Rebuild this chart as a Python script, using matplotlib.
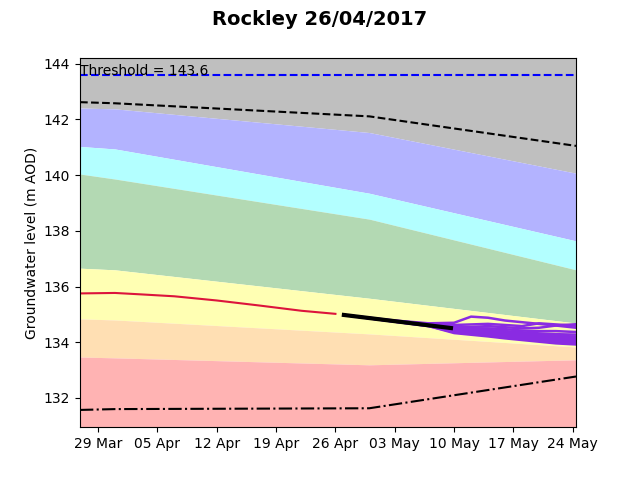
# plot level air tanah Rockley
import pandas as pd
import matplotlib
matplotlib.use('Agg')
from matplotlib import pyplot as plt
import matplotlib.dates as mdates

# tanggal batas band (akhir bulan)
band_dates = pd.to_datetime(['2017-03-26 21:00', '2017-03-31 00:00', '2017-04-30 00:00', '2017-05-24 09:00'])
upper_line = [142.62, 142.58, 142.11, 141.05]
lavender_top = [142.41, 142.38, 141.53, 140.07]
cyan_top = [141.03, 140.94, 139.35, 137.64]
green_top = [140.04, 139.86, 138.42, 136.60]
yellow_top = [136.66, 136.60, 135.58, 134.69]
peach_top = [134.84, 134.80, 134.30, 133.83]
pink_top = [133.47, 133.44, 133.19, 133.37]
lower_line = [131.57, 131.60, 131.63, 132.77]

threshold = 143.6

# data observasi
obs_dates = pd.to_datetime(['2017-03-26', '2017-03-31', '2017-04-03', '2017-04-07', '2017-04-12',
                            '2017-04-17', '2017-04-22', '2017-04-26'])
obs_level = [135.75, 135.77, 135.72, 135.65, 135.50, 135.32, 135.13, 135.02]

# prediksi rata-rata
fc_dates = pd.to_datetime(['2017-04-27 00:00', '2017-05-09 15:00'])
fc_level = [134.98, 134.51]

# ensemble prediksi
ens_dates = pd.to_datetime(['2017-04-27', '2017-05-03', '2017-05-07', '2017-05-10', '2017-05-12',
                            '2017-05-14', '2017-05-16', '2017-05-18', '2017-05-20', '2017-05-22',
                            '2017-05-25'])
ens_1 = [134.98, 134.78, 134.68, 134.70, 134.92, 134.88, 134.78, 134.72, 134.66, 134.60, 134.66]
ens_2 = [134.98, 134.77, 134.66, 134.62, 134.64, 134.66, 134.62, 134.58, 134.68, 134.64, 134.58]
ens_3 = [134.98, 134.76, 134.64, 134.56, 134.55, 134.58, 134.54, 134.50, 134.52, 134.60, 134.50]
ens_4 = [134.98, 134.76, 134.63, 134.54, 134.50, 134.50, 134.47, 134.42, 134.40, 134.40, 134.36]
ens_5 = [134.98, 134.76, 134.62, 134.52, 134.47, 134.44, 134.40, 134.36, 134.32, 134.29, 134.27]
ens_6 = [134.98, 134.76, 134.62, 134.50, 134.45, 134.40, 134.36, 134.32, 134.27, 134.23, 134.20]
ens_7 = [134.98, 134.75, 134.61, 134.48, 134.43, 134.37, 134.32, 134.27, 134.22, 134.18, 134.14]
ens_8 = [134.98, 134.75, 134.60, 134.46, 134.40, 134.34, 134.28, 134.23, 134.17, 134.12, 134.08]
ens_9 = [134.98, 134.75, 134.60, 134.43, 134.37, 134.31, 134.25, 134.19, 134.13, 134.07, 134.03]
ens_10 = [134.98, 134.74, 134.59, 134.40, 134.34, 134.28, 134.21, 134.15, 134.09, 134.03, 133.98]
ens_11 = [134.98, 134.74, 134.58, 134.36, 134.30, 134.24, 134.17, 134.11, 134.05, 133.99, 133.94]
ens_12 = [134.98, 134.74, 134.58, 134.33, 134.27, 134.21, 134.14, 134.08, 134.02, 133.96, 133.91]
ensembles = [ens_1, ens_2, ens_3, ens_4, ens_5, ens_6, ens_7, ens_8, ens_9, ens_10, ens_11, ens_12]

fig, ax = plt.subplots(figsize=(6.4, 4.8), dpi=100)

# band warna
ax.fill_between(band_dates, lavender_top, 150, color='#bfbfbf', lw=0)
ax.fill_between(band_dates, cyan_top, lavender_top, color='#b3b3ff', lw=0)
ax.fill_between(band_dates, green_top, cyan_top, color='#b3ffff', lw=0)
ax.fill_between(band_dates, yellow_top, green_top, color='#b3d9b3', lw=0)
ax.fill_between(band_dates, peach_top, yellow_top, color='#ffffb3', lw=0)
ax.fill_between(band_dates, pink_top, peach_top, color='#ffdfb3', lw=0)
ax.fill_between(band_dates, 125, pink_top, color='#ffb3b3', lw=0)

ax.plot(band_dates, upper_line, 'k--', lw=1.5)
ax.plot(band_dates, lower_line, 'k-.', lw=1.5)
ax.axhline(threshold, color='b', ls='--', lw=1.5)

for e in ensembles:
    ax.plot(ens_dates, e, color='#8a2be2', lw=1.8)
ax.plot(obs_dates, obs_level, color='crimson', lw=1.5)
ax.plot(fc_dates, fc_level, color='k', lw=3)

xmin = pd.Timestamp('2017-03-26 21:00')
xmax = pd.Timestamp('2017-05-24 09:00')
ax.set_xlim(xmin, xmax)
ax.set_ylim(130.95, 144.22)
ax.text(xmin, threshold, 'Threshold = ' + str(threshold), fontsize=10)

ax.xaxis.set_major_locator(mdates.WeekdayLocator(byweekday=mdates.WE))
ax.xaxis.set_major_formatter(mdates.DateFormatter('%d %b'))
ax.set_ylabel('Groundwater level (m AOD)')
fig.suptitle('Rockley 26/04/2017', fontsize=14, fontweight='bold')

plt.savefig('out.png')
